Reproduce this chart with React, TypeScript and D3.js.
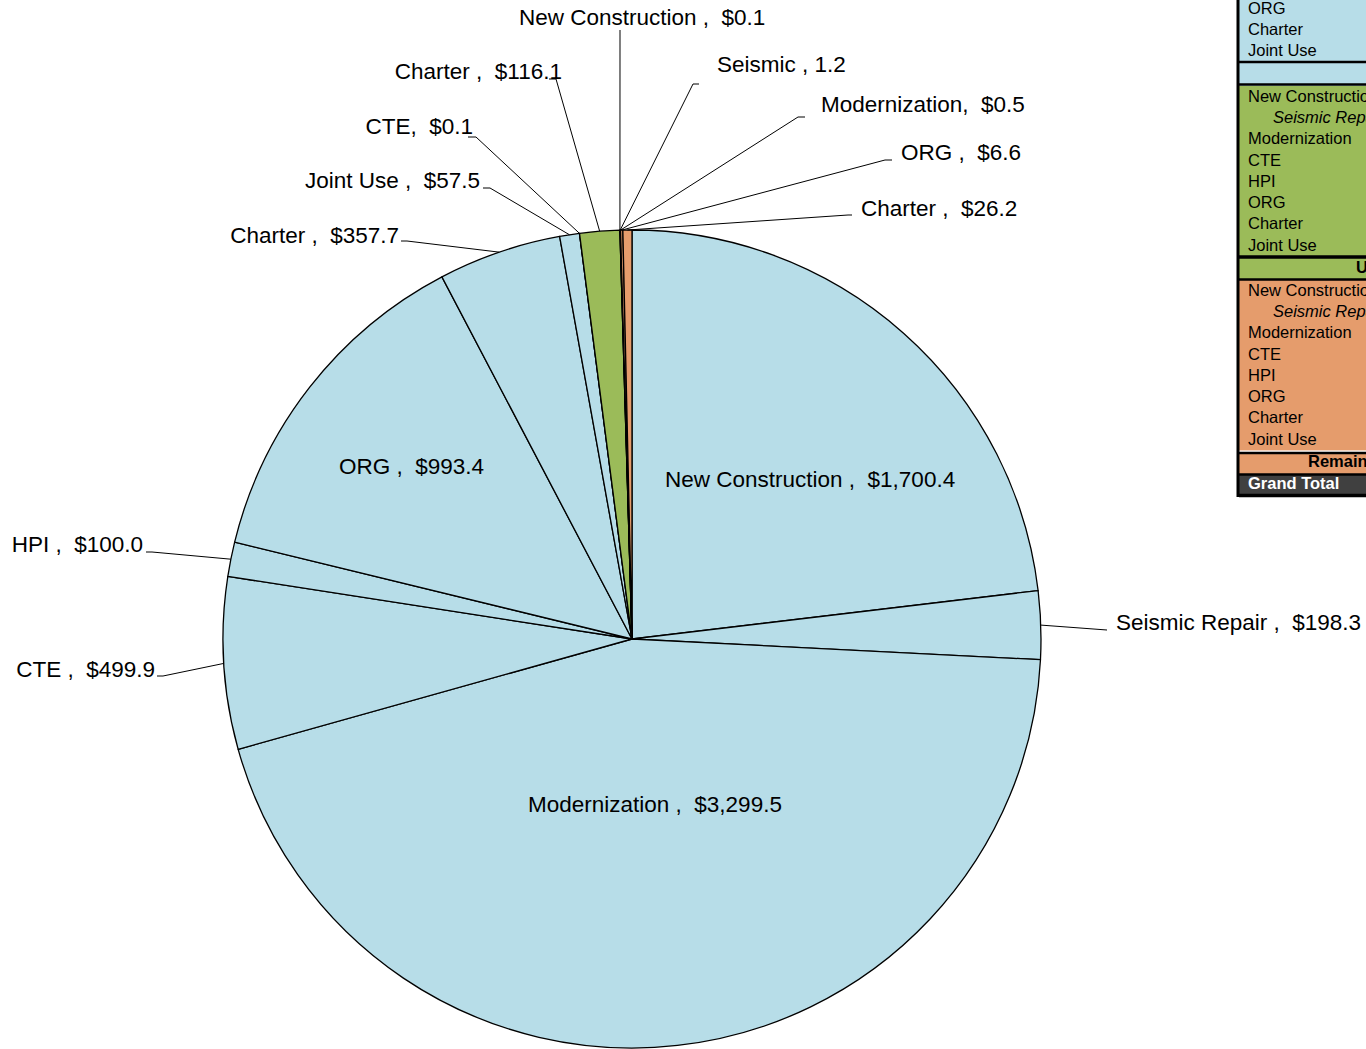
import React, { useEffect, useRef } from "react";
import * as d3 from "d3";

// slices, clockwise from 12 o'clock
const blueCategories = ["New Construction", "Seismic Repair", "Modernization", "CTE", "HPI", "ORG", "Charter", "Joint Use"];
const blueValues = [1700.4, 198.3, 3299.5, 499.9, 100.0, 993.4, 357.7, 57.5];
const greenCategories = ["CTE", "Charter"];
const greenValues = [0.1, 116.1];
const orangeCategories = ["New Construction", "Seismic", "Modernization", "ORG", "Charter"];
const orangeValues = [0.1, 1.2, 0.5, 6.6, 26.2];

const labelTexts = [
    "New Construction ,  $1,700.4",
    "Seismic Repair ,  $198.3",
    "Modernization ,  $3,299.5",
    "CTE ,  $499.9",
    "HPI ,  $100.0",
    "ORG ,  $993.4",
    "Charter ,  $357.7",
    "Joint Use ,  $57.5",
    "CTE,  $0.1",
    "Charter ,  $116.1",
    "New Construction ,  $0.1",
    "Seismic , 1.2",
    "Modernization,  $0.5",
    "ORG ,  $6.6",
    "Charter ,  $26.2",
];

// side table (cut off by the right edge)
const tableRows = ["New Construction", "Seismic Repair", "Modernization", "CTE", "HPI", "ORG", "Charter", "Joint Use"];
const blueTableRows = ["ORG", "Charter", "Joint Use"]; // only the tail of this block is on screen
const greenHeader = "Unfunded";
const orangeHeader = "Remaining";
const totalLabel = "Grand Total";

const COLORS = { blue: "#b7dde8", green: "#9bbb59", orange: "#e59c6c", total: "#404040" };

interface Slice {
    category: string;
    value: number;
    group: "blue" | "green" | "orange";
    label: string;
}

// where each label sits: text point, leader end near text, elbow offset
const labelLayout: { inside?: boolean; x: number; y: number; anchor: string; px?: number; py?: number; dx?: number }[] = [
    { inside: true, x: 665, y: 479, anchor: "start" },
    { x: 1116, y: 622, anchor: "start", px: 1107, py: 630, dx: 0 },
    { inside: true, x: 528, y: 804, anchor: "start" },
    { x: 155, y: 669, anchor: "end", px: 157, py: 676, dx: 6 },
    { x: 143, y: 544, anchor: "end", px: 146, py: 552, dx: 6 },
    { inside: true, x: 339, y: 466, anchor: "start" },
    { x: 399, y: 235, anchor: "end", px: 401, py: 241, dx: 6 },
    { x: 480, y: 180, anchor: "end", px: 483, py: 188, dx: 7 },
    { x: 473, y: 126, anchor: "end", px: 468, py: 137, dx: 8 },
    { x: 562, y: 71, anchor: "end", px: 549, py: 79, dx: 7 },
    { x: 519, y: 17, anchor: "start", px: 620, py: 30, dx: 0 },
    { x: 717, y: 64, anchor: "start", px: 699, py: 84, dx: -6 },
    { x: 821, y: 104, anchor: "start", px: 805, py: 117, dx: -7 },
    { x: 901, y: 152, anchor: "start", px: 892, py: 160, dx: -7 },
    { x: 861, y: 208, anchor: "start", px: 852, py: 215, dx: -4 },
];

export default function App() {
    const ref = useRef<SVGSVGElement | null>(null);

    useEffect(() => {
        const width = 1366;
        const height = 1049;
        const cx = 632;
        const cy = 639;
        const radius = 409;
        const font = "'Liberation Sans', Arial, Helvetica, sans-serif";

        const slices: Slice[] = [
            ...blueCategories.map((c, i) => ({ category: c, value: blueValues[i], group: "blue" as const, label: "" })),
            ...greenCategories.map((c, i) => ({ category: c, value: greenValues[i], group: "green" as const, label: "" })),
            ...orangeCategories.map((c, i) => ({ category: c, value: orangeValues[i], group: "orange" as const, label: "" })),
        ];
        slices.forEach((s, i) => (s.label = labelTexts[i]));

        const svg = d3.select(ref.current);
        svg.selectAll("*").remove();
        svg.attr("width", width).attr("height", height);

        svg.append("rect").attr("width", width).attr("height", height).attr("fill", "#fff");

        const pie = d3.pie<Slice>().value((d) => d.value).sort(null);
        const arcs = pie(slices);
        const arc = d3.arc<d3.PieArcDatum<Slice>>().innerRadius(0).outerRadius(radius);

        const g = svg.append("g").attr("transform", `translate(${cx},${cy})`);

        g.selectAll("path")
            .data(arcs)
            .join("path")
            .attr("d", arc)
            .attr("fill", (d) => COLORS[d.data.group])
            .attr("stroke", "#000")
            .attr("stroke-width", 1.3)
            .attr("stroke-linejoin", "round");

        // leader lines
        const lines = svg.append("g");
        arcs.forEach((d, i) => {
            const lay = labelLayout[i];
            if (lay.inside) return;
            const mid = (d.startAngle + d.endAngle) / 2;
            const ax = cx + radius * Math.sin(mid);
            const ay = cy - radius * Math.cos(mid);
            const pts: [number, number][] = [
                [ax, ay],
                [lay.px! + lay.dx!, lay.py!],
                [lay.px!, lay.py!],
            ];
            lines.append("path")
                .attr("d", d3.line()(pts))
                .attr("fill", "none")
                .attr("stroke", "#000")
                .attr("stroke-width", 1);
        });

        svg.append("g")
            .selectAll("text")
            .data(arcs)
            .join("text")
            .attr("x", (_, i) => labelLayout[i].x)
            .attr("y", (_, i) => labelLayout[i].y)
            .attr("text-anchor", (_, i) => labelLayout[i].anchor)
            .attr("dominant-baseline", "central")
            .attr("font-family", font)
            .attr("font-size", 22.5)
            .attr("fill", "#000")
            .style("white-space", "pre")
            .text((d) => d.data.label);

        // ---- side table ----
        const tx = 1239;
        const tw = 200;
        const rowH = 21.3;
        const tfs = 16.5;
        const t = svg.append("g");

        const drawRows = (rows: string[], top: number, fill: string) => {
            t.append("rect").attr("x", tx).attr("y", top).attr("width", tw).attr("height", rowH * rows.length).attr("fill", fill);
            t.selectAll(null)
                .data(rows)
                .enter()
                .append("text")
                .attr("x", (d) => (d === "Seismic Repair" ? tx + 34 : tx + 9))
                .attr("y", (_, i) => top + rowH * i + rowH / 2 - 1)
                .attr("dominant-baseline", "central")
                .attr("font-family", font)
                .attr("font-size", tfs)
                .attr("font-style", (d) => (d === "Seismic Repair" ? "italic" : "normal"))
                .text((d) => d);
        };

        // blue block ends at y=61
        t.append("rect").attr("x", tx).attr("y", -10).attr("width", tw).attr("height", 10).attr("fill", COLORS.blue);
        drawRows(blueTableRows, 61 - rowH * blueTableRows.length + 1, COLORS.blue);
        t.append("rect").attr("x", tx).attr("y", 61).attr("width", tw).attr("height", 25).attr("fill", COLORS.blue);
        drawRows(tableRows, 86, COLORS.green);
        t.append("rect").attr("x", tx).attr("y", 257).attr("width", tw).attr("height", 22).attr("fill", COLORS.green);
        t.append("text").attr("x", 1356).attr("y", 267).attr("dominant-baseline", "central")
            .attr("font-family", font).attr("font-size", tfs).attr("font-weight", "bold").text(greenHeader);
        drawRows(tableRows, 280, COLORS.orange);
        t.append("rect").attr("x", tx).attr("y", 452).attr("width", tw).attr("height", 22).attr("fill", COLORS.orange);
        t.append("text").attr("x", 1308).attr("y", 461).attr("dominant-baseline", "central")
            .attr("font-family", font).attr("font-size", tfs).attr("font-weight", "bold").text(orangeHeader);
        t.append("rect").attr("x", tx).attr("y", 474).attr("width", tw).attr("height", 22).attr("fill", COLORS.total);
        t.append("text").attr("x", tx + 9).attr("y", 483).attr("dominant-baseline", "central")
            .attr("font-family", font).attr("font-size", tfs).attr("font-weight", "bold").attr("fill", "#fff").text(totalLabel);

        // separators
        [62, 84.5, 257, 279.5, 453, 474.5, 495.5].forEach((y, i) => {
            t.append("line").attr("x1", tx).attr("x2", tx + tw).attr("y1", y).attr("y2", y)
                .attr("stroke", "#000").attr("stroke-width", i === 2 || i === 6 ? 3.5 : 2.5);
        });
        t.append("line").attr("x1", 1238).attr("x2", 1238).attr("y1", 0).attr("y2", 497)
            .attr("stroke", "#000").attr("stroke-width", 3);
    }, []);

    return (
        <svg ref={ref} style={{ position: "absolute", left: 0, top: 0, display: "block" }}></svg>
    );
}
